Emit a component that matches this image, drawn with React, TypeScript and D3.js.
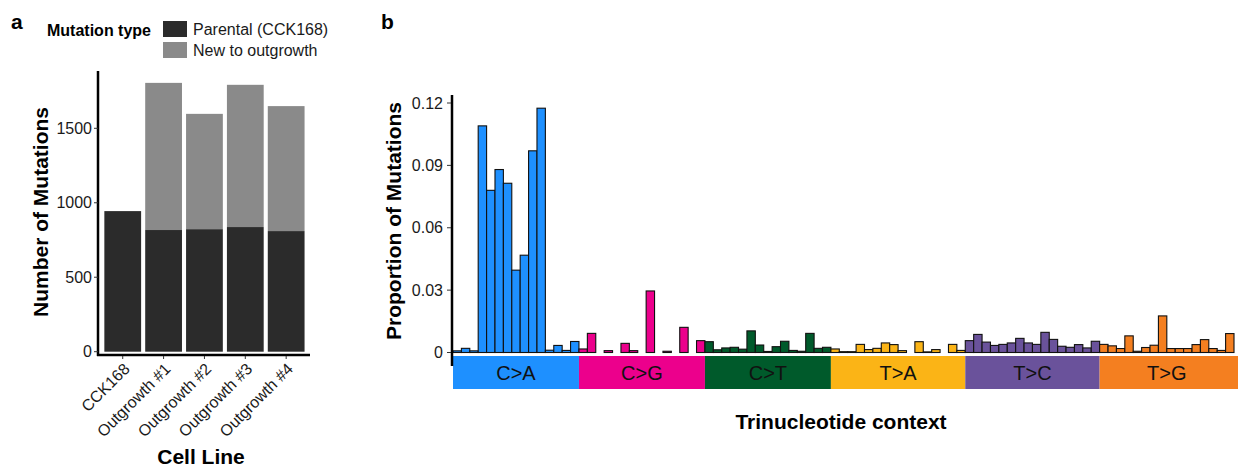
import { useEffect, useRef } from 'react';
import * as d3 from 'd3';

// panel a: mutation counts per cell line
const cellLines = ['CCK168', 'Outgrowth #1', 'Outgrowth #2', 'Outgrowth #3', 'Outgrowth #4'];
const parental = [944, 817, 823, 837, 810];
const newToOutgrowth = [0, 988, 774, 955, 839];
const countTicks = [0, 500, 1000, 1500];

// panel b: trinucleotide spectrum
const mutTypes = ['C>A', 'C>G', 'C>T', 'T>A', 'T>C', 'T>G'];
const mutColors = ['#1e90ff', '#ec008c', '#005a2b', '#fbb416', '#6a529b', '#f47f20'];
const caValues = [0.0008, 0.002, 0.0008, 0.109, 0.078, 0.088, 0.0814, 0.0396, 0.0468, 0.097, 0.1175, 0.0011, 0.0034, 0.001, 0.0053];
const cgValues = [0.0017, 0.0092, 0, 0.0009, 0, 0.0044, 0.0009, 0, 0.0296, 0, 0.0006, 0, 0.0121, 0, 0.0057];
const ctValues = [0.0052, 0.0013, 0.0022, 0.0025, 0.0016, 0.0104, 0.0036, 0.0005, 0.0028, 0.0054, 0.001, 0.0006, 0.0092, 0.002, 0.0025];
const taValues = [0.0017, 0.0004, 0.0004, 0.0039, 0.0014, 0.002, 0.0046, 0.0038, 0.0009, 0, 0.0052, 0.0003, 0.0014, 0, 0.0039, 0.001];
const tcValues = [0.0057, 0.0087, 0.005, 0.0034, 0.0039, 0.0046, 0.0068, 0.0046, 0.0039, 0.0097, 0.0063, 0.003, 0.0025, 0.0038, 0.0022, 0.0054];
const tgValues = [0.0039, 0.0032, 0.0019, 0.008, 0.0006, 0.0024, 0.0035, 0.0176, 0.0019, 0.0019, 0.0019, 0.0038, 0.0062, 0.0019, 0.001, 0.0091];
const propTicks = [0, 0.03, 0.06, 0.09, 0.12];

const FONT = '"Liberation Sans", Arial, sans-serif';
const W = 1238;
const H = 467;

const App = () => {
  const svgRef = useRef<SVGSVGElement>(null);

  useEffect(() => {
    const svg = d3.select(svgRef.current);
    svg.selectAll('*').remove();
    svg.style('font-family', FONT);

    // ---------- panel a ----------
    const a = svg.append('g');
    a.append('text').attr('x', 11).attr('y', 29).text('a')
      .style('font-size', '21px').style('font-weight', 'bold');

    // legend
    a.append('text').attr('x', 47).attr('y', 36).text('Mutation type')
      .style('font-size', '16px').style('font-weight', 'bold');
    const legend = [
      { label: 'Parental (CCK168)', color: '#2b2b2b' },
      { label: 'New to outgrowth', color: '#8a8a8a' },
    ];
    legend.forEach((d, i) => {
      a.append('rect').attr('x', 163).attr('y', 21 + i * 21).attr('width', 24).attr('height', 16).attr('fill', d.color);
      a.append('text').attr('x', 193).attr('y', 35 + i * 21).text(d.label)
        .style('font-size', '16px').attr('fill', '#1a1a1a');
    });

    const xa = d3.scaleBand().domain(cellLines).range([102.3, 306.6]).paddingInner(0.1).paddingOuter(0.05);
    const ya = d3.scaleLinear().domain([0, 1500]).range([351.7, 128.3]);

    cellLines.forEach((c, i) => {
      a.append('rect').attr('x', xa(c)!).attr('width', xa.bandwidth())
        .attr('y', ya(parental[i])).attr('height', ya(0) - ya(parental[i])).attr('fill', '#2b2b2b');
      if (newToOutgrowth[i] > 0) {
        const top = parental[i] + newToOutgrowth[i];
        a.append('rect').attr('x', xa(c)!).attr('width', xa.bandwidth())
          .attr('y', ya(top)).attr('height', ya(parental[i]) - ya(top)).attr('fill', '#8a8a8a');
      }
    });

    // axes
    a.append('line').attr('x1', 98).attr('x2', 98).attr('y1', 71).attr('y2', 356)
      .attr('stroke', '#000').attr('stroke-width', 2.5);
    a.append('line').attr('x1', 97).attr('x2', 310).attr('y1', 355).attr('y2', 355)
      .attr('stroke', '#000').attr('stroke-width', 2.5);
    countTicks.forEach(t => {
      a.append('line').attr('x1', 94).attr('x2', 98).attr('y1', ya(t)).attr('y2', ya(t)).attr('stroke', '#333');
      a.append('text').attr('x', 92).attr('y', ya(t)).attr('dy', '0.35em').attr('text-anchor', 'end')
        .text(t).style('font-size', '16px').attr('fill', '#1a1a1a');
    });
    cellLines.forEach(c => {
      const cx = xa(c)! + xa.bandwidth() / 2;
      a.append('line').attr('x1', cx).attr('x2', cx).attr('y1', 356).attr('y2', 359).attr('stroke', '#333');
      a.append('text').attr('transform', `translate(${cx + 4},${366}) rotate(-45)`)
        .attr('text-anchor', 'end').attr('dy', '0.35em').text(c)
        .style('font-size', '16px').attr('fill', '#1a1a1a');
    });
    a.append('text').attr('transform', `translate(48,212) rotate(-90)`).attr('text-anchor', 'middle')
      .text('Number of Mutations').style('font-size', '21px').style('font-weight', 'bold');
    a.append('text').attr('x', 201).attr('y', 464).attr('text-anchor', 'middle')
      .text('Cell Line').style('font-size', '21px').style('font-weight', 'bold');

    // ---------- panel b ----------
    const b = svg.append('g');
    b.append('text').attr('x', 381).attr('y', 29).text('b')
      .style('font-size', '21px').style('font-weight', 'bold');

    const groups = [caValues, cgValues, ctValues, taValues, tcValues, tgValues];
    const bars: { key: string; value: number; type: number }[] = [];
    groups.forEach((vals, g) => vals.forEach((v, j) => bars.push({ key: `${g}-${j}`, value: v, type: g })));

    const xb = d3.scaleBand().domain(bars.map(d => d.key)).range([453, 1234]);
    const yb = d3.scaleLinear().domain([0, 0.12]).range([352.5, 103]);

    // strips
    let start = 0;
    groups.forEach((vals, g) => {
      const x0 = xb(bars[start].key)!;
      const x1 = g === groups.length - 1 ? W : xb(bars[start + vals.length - 1].key)! + xb.bandwidth();
      b.append('rect').attr('x', x0).attr('y', 356).attr('width', x1 - x0).attr('height', 33).attr('fill', mutColors[g]);
      b.append('text').attr('x', (x0 + Math.min(x1, 1234)) / 2).attr('y', 373).attr('dy', '0.36em')
        .attr('text-anchor', 'middle').text(mutTypes[g]).style('font-size', '20px').attr('fill', '#111');
      start += vals.length;
    });

    b.selectAll('rect.bar').data(bars).enter().append('rect').attr('class', 'bar')
      .attr('x', d => xb(d.key)!).attr('width', xb.bandwidth())
      .attr('y', d => yb(d.value)).attr('height', d => yb(0) - yb(d.value))
      .attr('fill', d => mutColors[d.type]).attr('stroke', '#111').attr('stroke-width', 1.1);

    b.append('line').attr('x1', 452).attr('x2', 452).attr('y1', 95).attr('y2', 366)
      .attr('stroke', '#000').attr('stroke-width', 2.5);
    propTicks.forEach(t => {
      b.append('line').attr('x1', 447).attr('x2', 451).attr('y1', yb(t)).attr('y2', yb(t)).attr('stroke', '#333');
      b.append('text').attr('x', 443).attr('y', yb(t)).attr('dy', '0.35em').attr('text-anchor', 'end')
        .text(t === 0 ? '0' : d3.format('.2f')(t)).style('font-size', '16px').attr('fill', '#1a1a1a');
    });
    b.append('text').attr('transform', `translate(401,221) rotate(-90)`).attr('text-anchor', 'middle')
      .text('Proportion of Mutations').style('font-size', '21px').style('font-weight', 'bold');
    b.append('text').attr('x', 841).attr('y', 429).attr('text-anchor', 'middle')
      .text('Trinucleotide context').style('font-size', '21px').style('font-weight', 'bold');
  }, []);

  return (
    <svg ref={svgRef} width={W} height={H}
      style={{ position: 'absolute', left: 0, top: 0, background: '#fff' }} />
  );
};

export default App;
